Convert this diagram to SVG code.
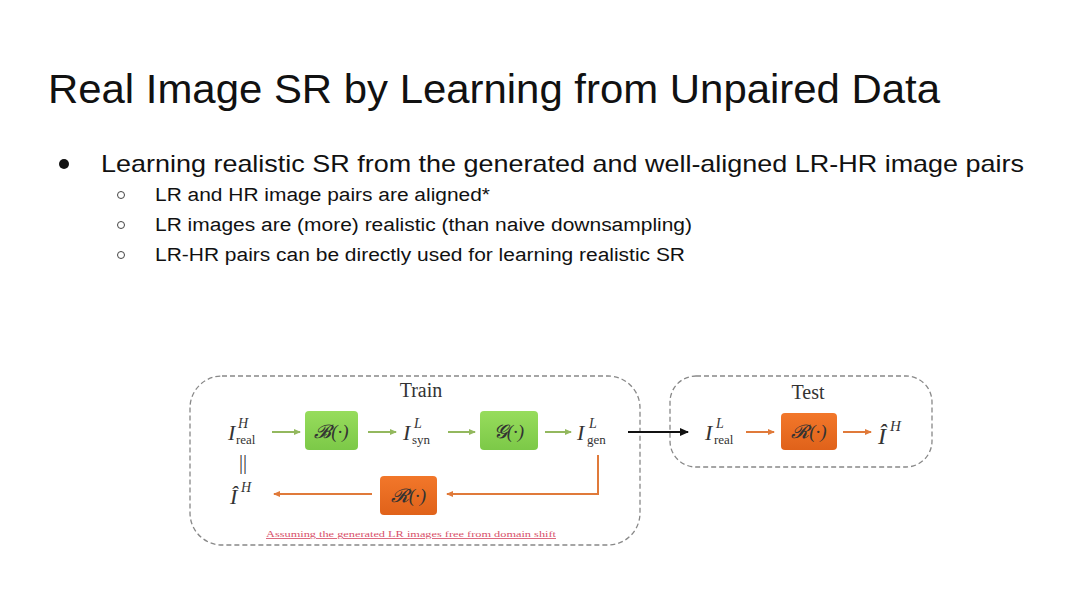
<svg xmlns="http://www.w3.org/2000/svg" width="1080" height="608" viewBox="0 0 1080 608">
<defs>
<marker id="ag" markerWidth="8" markerHeight="8" refX="6" refY="4" orient="auto" markerUnits="userSpaceOnUse"><path d="M0,1 L7,4 L0,7 z" fill="#93b85e"/></marker>
<marker id="ao" markerWidth="8" markerHeight="8" refX="6" refY="4" orient="auto" markerUnits="userSpaceOnUse"><path d="M0,1 L7,4 L0,7 z" fill="#e07a3a"/></marker>
<marker id="ak" markerWidth="10" markerHeight="10" refX="8" refY="5" orient="auto" markerUnits="userSpaceOnUse"><path d="M0,1 L9,5 L0,9 z" fill="#111"/></marker>
<linearGradient id="gg" x1="0" y1="0" x2="0" y2="1"><stop offset="0" stop-color="#97dc5c"/><stop offset="1" stop-color="#7cc948"/></linearGradient>
<linearGradient id="og" x1="0" y1="0" x2="0" y2="1"><stop offset="0" stop-color="#f2772a"/><stop offset="1" stop-color="#e0621a"/></linearGradient>
</defs>
<style>
.t{font-family:"Liberation Sans",Arial,sans-serif;fill:#111}
.m{font-family:"Liberation Serif","Times New Roman",serif;fill:#333}
.mi{font-family:"Liberation Serif","Times New Roman",serif;font-style:italic;fill:#333}
.grp{fill:none;stroke:#888;stroke-width:1.3;stroke-dasharray:5,3}
.gl{stroke:#93b85e;stroke-width:2;fill:none}
.ol{stroke:#e07a3a;stroke-width:2;fill:none}
</style>
<rect width="1080" height="608" fill="#fff"/>
<text class="t" x="48" y="103" font-size="40" textLength="892" lengthAdjust="spacingAndGlyphs">Real Image SR by Learning from Unpaired Data</text>
<circle cx="64" cy="164" r="5" fill="#111"/>
<text class="t" x="101" y="172" font-size="24" textLength="923" lengthAdjust="spacingAndGlyphs">Learning realistic SR from the generated and well-aligned LR-HR image pairs</text>
<g fill="none" stroke="#444" stroke-width="1">
<circle cx="121" cy="195" r="3.5"/><circle cx="121" cy="225" r="3.5"/><circle cx="121" cy="255" r="3.5"/>
</g>
<text class="t" x="155" y="201" font-size="18" textLength="335" lengthAdjust="spacingAndGlyphs">LR and HR image pairs are aligned*</text>
<text class="t" x="155" y="231" font-size="18" textLength="537" lengthAdjust="spacingAndGlyphs">LR images are (more) realistic (than naive downsampling)</text>
<text class="t" x="155" y="261" font-size="18" textLength="530" lengthAdjust="spacingAndGlyphs">LR-HR pairs can be directly used for learning realistic SR</text>

<g id="train-group">
<rect class="grp" x="190" y="376" width="450" height="169" rx="32"/>
<text class="m" x="421" y="397" font-size="20" text-anchor="middle" fill="#222">Train</text>
</g>
<g id="test-group">
<rect class="grp" x="670" y="376" width="262" height="91" rx="26"/>
<text class="m" x="808" y="399" font-size="20" text-anchor="middle" fill="#222">Test</text>
</g>

<g id="n-ihreal"><text class="mi" x="228" y="440" font-size="22">I</text><text class="mi" x="238" y="428" font-size="14">H</text><text class="m" x="236" y="444" font-size="13">real</text></g>
<g id="n-B"><rect x="305" y="411" width="53" height="39" rx="4" fill="url(#gg)"/><text class="mi" x="331.5" y="438" font-size="19" text-anchor="middle" fill="#2e5a17">𝓑(·)</text></g>
<g id="n-isyn"><text class="mi" x="403" y="440" font-size="22">I</text><text class="mi" x="414" y="428" font-size="14">L</text><text class="m" x="412" y="444" font-size="13">syn</text></g>
<g id="n-G"><rect x="480" y="411" width="58" height="39" rx="4" fill="url(#gg)"/><text class="mi" x="509" y="438" font-size="19" text-anchor="middle" fill="#2e5a17">𝓖(·)</text></g>
<g id="n-igen"><text class="mi" x="577" y="440" font-size="22">I</text><text class="mi" x="589" y="428" font-size="14">L</text><text class="m" x="587" y="444" font-size="13">gen</text></g>
<g id="n-eq"><text class="m" x="243" y="469" font-size="20" text-anchor="middle">||</text></g>
<g id="n-ihat"><text class="mi" x="230" y="504" font-size="22">Î</text><text class="mi" x="241" y="492" font-size="14">H</text></g>
<g id="n-R1"><rect x="380" y="476" width="57" height="39" rx="4" fill="url(#og)"/><text class="mi" x="408.5" y="502" font-size="19" text-anchor="middle" fill="#7a2a08">𝓡(·)</text></g>
<g id="n-caption"><text x="411" y="537" font-size="8.5" text-anchor="middle" fill="#d8506a" font-family="Liberation Serif,serif" text-decoration="underline" textLength="290" lengthAdjust="spacingAndGlyphs">Assuming the generated LR images free from domain shift</text></g>
<g id="n-ilreal"><text class="mi" x="705" y="440" font-size="22">I</text><text class="mi" x="716" y="428" font-size="14">L</text><text class="m" x="714" y="444" font-size="13">real</text></g>
<g id="n-R2"><rect x="781" y="413" width="56" height="37" rx="4" fill="url(#og)"/><text class="mi" x="809" y="438" font-size="19" text-anchor="middle" fill="#7a2a08">𝓡(·)</text></g>
<g id="n-ihat2"><text class="mi" x="878" y="444" font-size="24">Î</text><text class="mi" x="890" y="431" font-size="15">H</text></g>

<g id="connectors">
<line class="gl" x1="272" y1="432" x2="300" y2="432" marker-end="url(#ag)"/>
<line class="gl" x1="368" y1="432" x2="396" y2="432" marker-end="url(#ag)"/>
<line class="gl" x1="448" y1="432" x2="475" y2="432" marker-end="url(#ag)"/>
<line class="gl" x1="545" y1="432" x2="571" y2="432" marker-end="url(#ag)"/>
<line x1="628" y1="432" x2="688" y2="432" stroke="#111" stroke-width="2" marker-end="url(#ak)"/>
<line class="ol" x1="372" y1="494" x2="274" y2="494" marker-end="url(#ao)"/>
<polyline class="ol" points="598,455 598,494 447,494" marker-end="url(#ao)"/>
<line class="ol" x1="746" y1="432" x2="774" y2="432" marker-end="url(#ao)"/>
<line class="ol" x1="843" y1="432" x2="871" y2="432" marker-end="url(#ao)"/>
</g>
</svg>
